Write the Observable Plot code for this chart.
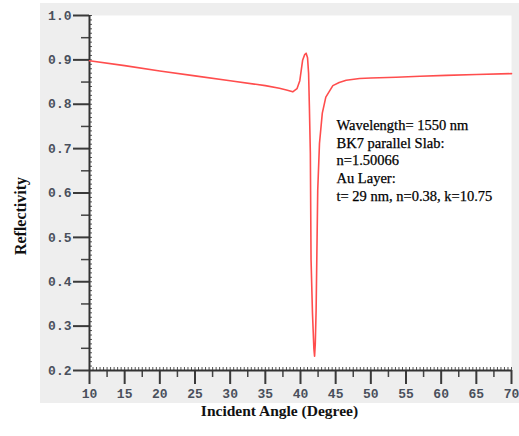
<!DOCTYPE html>
<html><head><meta charset="utf-8">
<script src="https://cdn.jsdelivr.net/npm/d3@7"></script>
<script src="https://cdn.jsdelivr.net/npm/@observablehq/plot@0.6"></script>
<style>
html,body{margin:0;padding:0;background:#fff;overflow:hidden}
#wrap{position:relative;width:519px;height:436px}
#panel{position:absolute;left:40px;top:3px;width:479px;height:400px;background:#eeeeee}
#chart{position:absolute;left:0;top:0}
#chart svg text.ticklbl, #chart svg g[aria-label$="tick label"] text {
  font-family: 'Liberation Mono', 'DejaVu Sans Mono', monospace !important;
  font-size: 13px !important; font-weight: 700 !important; fill: #4a505c !important;
}
</style></head><body>
<div id="wrap"><div id="panel"></div><div id="chart"></div></div>
<script>
// Data
const angle = [10, 15, 20, 25, 30, 35, 37, 38, 38.9, 39.5, 39.9, 40.3, 40.6, 40.8, 41.0, 41.15, 41.27, 41.4, 41.5, 41.7, 41.9, 42.0, 42.1, 42.22, 42.36, 42.45, 42.7, 43.1, 43.6, 44.6, 45.5, 46.5, 48.4, 50, 53.6, 57, 60.7, 65, 70];
const reflectivity = [0.898, 0.887, 0.875, 0.864, 0.853, 0.842, 0.836, 0.832, 0.828, 0.835, 0.853, 0.899, 0.912, 0.915, 0.905, 0.87, 0.79, 0.69, 0.45, 0.33, 0.25, 0.232, 0.26, 0.336, 0.50, 0.606, 0.712, 0.78, 0.816, 0.842, 0.849, 0.854, 0.858, 0.859, 0.861, 0.863, 0.865, 0.867, 0.869];
const xTicks = [10, 15, 20, 25, 30, 35, 40, 45, 50, 55, 60, 65, 70];
const yTicks = [0.2, 0.3, 0.4, 0.5, 0.6, 0.7, 0.8, 0.9, 1.0];
const xTitle = "Incident Angle (Degree)";
const yTitle = "Reflectivity";
const annotationLines = [
  "Wavelength= 1550 nm",
  "BK7 parallel Slab:",
  "n=1.50066",
  "Au Layer:",
  "t= 29 nm, n=0.38, k=10.75"
];

const points = angle.map((a, i) => ({angle: a, r: reflectivity[i]}));
const xMinor = d3.range(10, 70.001, 0.5);
const xMid = d3.range(12.5, 70, 5);
const yMinor = d3.range(0.2, 1.0001, 0.01).map(v => +v.toFixed(2));
const yMid = d3.range(0.25, 1.0, 0.1).map(v => +v.toFixed(2));

const serif = "'Liberation Serif', 'DejaVu Serif', serif";
const mono = "'Liberation Mono', 'DejaVu Sans Mono', monospace";
const chart = Plot.plot({
  width: 519, height: 436,
  marginLeft: 89, marginRight: 8, marginTop: 15, marginBottom: 66,
  style: {background: "transparent", fontFamily: mono, fontSize: "13px"},
  x: {domain: [10, 70], label: null},
  y: {domain: [0.2, 1.0], label: null},
  marks: [
    Plot.frame({fill: "white", stroke: null}),
    Plot.axisX({ticks: xMinor, tickSize: 3, dy: -3, tickFormat: () => "", label: null, stroke: "#555", strokeWidth: 1}),
    Plot.axisX({ticks: xMid, tickSize: 7, tickFormat: () => "", label: null, stroke: "#444", strokeWidth: 1.5}),
    Plot.axisX({ticks: xTicks, tickSize: 14, tickPadding: 4, tickFormat: d => String(d), label: null, stroke: "#3a3a3a", strokeWidth: 2, fill: "#4a505c"}),
    Plot.axisY({ticks: yMinor, tickSize: 3, dx: 3, tickFormat: () => "", label: null, stroke: "#555", strokeWidth: 1}),
    Plot.axisY({ticks: yMid, tickSize: 8, tickFormat: () => "", label: null, stroke: "#444", strokeWidth: 1.5}),
    Plot.axisY({ticks: yTicks, tickSize: 16, tickPadding: 2, tickFormat: d3.format(".1f"), label: null, stroke: "#3a3a3a", strokeWidth: 2, fill: "#4a505c"}),
    Plot.ruleX([10], {stroke: "#333", strokeWidth: 2}),
    Plot.ruleY([0.2], {stroke: "#333", strokeWidth: 2}),
    Plot.line(points, {x: "angle", y: "r", stroke: "#ff4d4d", strokeWidth: 1.6}),
    Plot.text([annotationLines.join("\n")], {frameAnchor: "top-left", dx: 247, dy: 102, textAnchor: "start", lineAnchor: "top", lineHeight: 1.22, fontFamily: serif, fontSize: 14.5, fontWeight: "normal", fill: "#000", stroke: "#000", strokeWidth: 0.25}),
    Plot.text([xTitle], {frameAnchor: "bottom", dx: -21, dy: 41, textAnchor: "middle", lineAnchor: "middle", fontFamily: serif, fontSize: 15.5, fontWeight: "bold", fill: "#111"}),
    Plot.text([yTitle], {frameAnchor: "left", rotate: -90, dx: -69, dy: 23, textAnchor: "middle", lineAnchor: "middle", fontFamily: serif, fontSize: 16, fontWeight: "bold", fill: "#111"})
  ]
});
// mark tick-label text nodes so the CSS weight applies even if aria-labels differ
chart.querySelectorAll("g[aria-label*='axis'] text").forEach(t => {
  if (t.textContent.trim() !== "") t.classList.add("ticklbl");
});
document.getElementById("chart").appendChild(chart);
</script>
</body></html>
